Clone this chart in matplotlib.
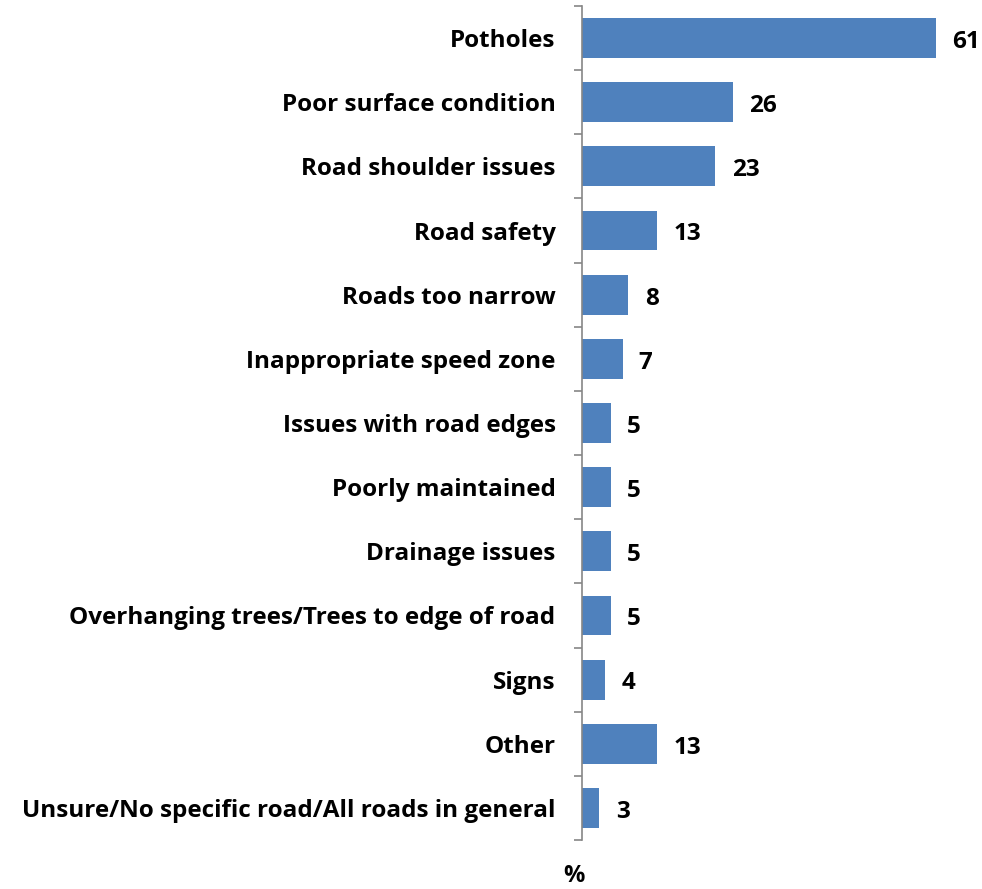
import matplotlib
matplotlib.use("Agg")
from matplotlib import pyplot as plt
import numpy as np

# Chart data
categories = ["Potholes", "Poor surface condition", "Road shoulder issues", "Road safety",
              "Roads too narrow", "Inappropriate speed zone", "Issues with road edges",
              "Poorly maintained", "Drainage issues", "Overhanging trees/Trees to edge of road",
              "Signs", "Other", "Unsure/No specific road/All roads in general"]
values = [61, 26, 23, 13, 8, 7, 5, 5, 5, 5, 4, 13, 3]

plt.rcParams['font.family'] = ['Open Sans', 'DejaVu Sans']
plt.rcParams['font.weight'] = 'bold'

fig = plt.figure(figsize=(9.82, 8.89), dpi=100)
ax = fig.add_axes([582/982, 1 - 840/889, 400/982, 834/889])

y = np.arange(len(categories))
ax.barh(y, values, height=0.62, color="#4F81BD")
ax.set_ylim(len(categories) - 0.5, -0.5)
ax.set_xlim(0, 400/5.8)

for yi, v in zip(y, values):
    ax.text(v + 2.8, yi + 0.06, str(v), va='center', ha='left', fontsize=17.5, fontweight='bold')

ax.set_yticks(y)
ax.set_yticklabels(categories, fontsize=17.5, fontweight='bold')
ax.tick_params(axis='y', which='major', length=0, pad=19)
ax.set_yticks(np.arange(len(categories) + 1) - 0.5, minor=True)
ax.tick_params(axis='y', which='minor', length=6, width=1.2, color='#868686')

for s in ['top', 'right', 'bottom']:
    ax.spines[s].set_visible(False)
ax.spines['left'].set_color('#868686')
ax.spines['left'].set_linewidth(1.2)
ax.set_xticks([])

fig.text(574/982, 1 - 876/889, "%", ha='center', va='center', fontsize=17, fontweight='bold')

plt.savefig("out.png", dpi=100)
